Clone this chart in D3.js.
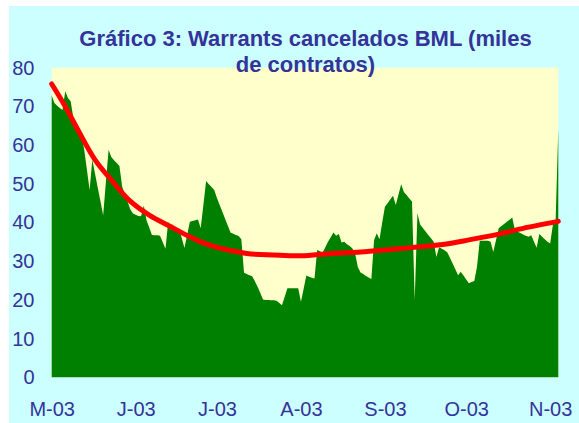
<!DOCTYPE html>
<html>
<head>
<meta charset="utf-8">
<script src="https://cdn.jsdelivr.net/npm/d3@7"></script>
<style>
body { margin: 0; background: white; }
</style>
</head>
<body>
<div id="chart"></div>
<script>
// daily values, miles de contratos
var may = [72.8, 70.9, 70.2, 69.6, 69.1, 73.9, 72.2, 71.3, 67.0, 65.2, 64.0, 62.7, 58.8, 53.6, 48.4, 56.2,
    52.6, 49.0, 45.5, 41.9, 50.4, 58.8, 56.9, 56.1, 55.4, 54.6, 49.3, 47.3, 45.4, 43.4, 42.3];
var jun = [42.0, 41.7, 41.6, 44.4, 40.6, 38.7, 36.8, 36.7, 36.7, 36.6, 34.9, 33.2, 40.2, 38.1, 38.2,
    38.4, 38.5, 36.0, 33.4, 36.8, 40.2, 40.4, 40.6, 40.8, 38.5, 44.6, 50.7, 49.9, 49.2, 48.4];
var jul = [46.3, 44.5, 42.8, 41.0, 39.2, 37.4, 37.1, 36.8, 36.5, 35.7, 27.0, 26.7, 26.4, 26.1, 24.8, 23.4,
    21.8, 20.1, 20.0, 20.0, 19.9, 19.9, 19.8, 19.2, 18.6, 20.8, 23.0, 23.0, 23.0, 23.0, 23.0];
var aug = [19.5, 22.9, 26.3, 26.0, 25.7, 25.5, 32.9, 32.6, 32.2, 33.6, 35.0, 36.2, 37.4, 36.6, 37.0, 34.8,
    35.0, 34.4, 33.9, 33.3, 32.0, 28.5, 27.1, 26.7, 26.2, 25.8, 25.4, 35.5, 37.2, 35.7, 40.0];
var sep = [44.1, 45.0, 46.0, 46.9, 44.5, 47.2, 49.9, 47.9, 47.1, 46.2, 45.4, 19.9, 42.4, 39.5, 38.6,
    37.7, 36.8, 35.9, 35.0, 31.1, 33.6, 33.2, 32.8, 32.3, 30.9, 29.4, 27.9, 26.4, 27.3, 26.3];
var oct = [25.3, 24.3, 24.6, 24.9, 28.6, 35.3, 35.3, 35.3, 35.3, 35.0, 32.4, 35.4, 38.5, 39.1, 39.6, 40.2,
    40.7, 41.3, 38.0, 37.6, 37.3, 36.9, 36.6, 36.3, 36.7, 35.1, 33.5, 37.0, 36.3, 35.7, 35.0];
var nov = [34.6, 39.4, 40.2, 64.2];

// red trend line, read at these dates
var trendDates = ["2003-05-01", "2003-05-06", "2003-05-11", "2003-05-17", "2003-05-23", "2003-05-30",
    "2003-06-06", "2003-06-14", "2003-06-21", "2003-06-28", "2003-07-12", "2003-07-22", "2003-08-01",
    "2003-08-12", "2003-08-23", "2003-09-01", "2003-09-12", "2003-09-23", "2003-10-02", "2003-10-13",
    "2003-10-24", "2003-11-04"];
var trendValues = [75.8, 70.0, 63.5, 56.2, 51.0, 45.5, 41.9, 38.9, 36.3, 34.2, 32.0, 31.6, 31.4,
    32.0, 32.4, 32.9, 33.6, 34.4, 35.5, 37.0, 38.8, 40.3];

var monthLabels = ["M-03", "J-03", "J-03", "A-03", "S-03", "O-03", "N-03"];
var yTicks = [0, 10, 20, 30, 40, 50, 60, 70, 80];
var titleLines = ["Gráfico 3: Warrants cancelados BML (miles", "de contratos)"];

w = 579;
h = 423;
var blue = "#333399";
var plot = { left: 51.7, right: 558.3, top: 67.7, bottom: 377.3 };

var parse = d3.timeParse("%Y-%m-%d");
var start = parse("2003-05-01"), end = parse("2003-11-04");

var values = may.concat(jun, jul, aug, sep, oct, nov);
var days = d3.timeDay.range(start, d3.timeDay.offset(end, 1));
var data = days.map(function (d, i) { return { date: d, v: values[i] }; });
var trend = trendDates.map(function (d, i) { return { date: parse(d), v: trendValues[i] }; });

var x = d3.scaleTime().domain([start, end]).range([plot.left, plot.right]);
var y = d3.scaleLinear().domain([0, 80]).range([plot.bottom, plot.top]);

var svg = d3.select("#chart").append("svg").attr("width", w).attr("height", h);

svg.append("rect").attr("x", 9).attr("y", 6).attr("width", w - 9).attr("height", h - 6).attr("fill", "#CCFFFF");
svg.append("rect").attr("x", plot.left).attr("y", plot.top)
    .attr("width", plot.right - plot.left).attr("height", plot.bottom - plot.top).attr("fill", "#FFFFCC");

var area = d3.area().x(function (d) { return x(d.date); }).y0(y(0)).y1(function (d) { return y(d.v); });
svg.append("path").datum(data).attr("fill", "#008000").attr("d", area);

var line = d3.line().x(function (d) { return x(d.date); }).y(function (d) { return y(d.v); })
    .curve(d3.curveCatmullRom.alpha(0.5));
svg.append("path").datum(trend).attr("fill", "none").attr("stroke", "#FF0000")
    .attr("stroke-width", 5).attr("stroke-linecap", "round").attr("d", line);

// axes without lines, only labels
var yAxis = svg.append("g").attr("transform", "translate(34.5,0)")
    .call(d3.axisLeft(y).tickValues(yTicks).tickSize(0).tickPadding(0));
yAxis.select(".domain").remove();
yAxis.selectAll("text").attr("fill", blue).attr("font-family", "Liberation Sans, Arial, sans-serif")
    .attr("font-size", "20px");

var monthTicks = d3.timeMonth.range(start, end);
var xAxis = svg.append("g").attr("transform", "translate(0,402)")
    .call(d3.axisBottom(x).tickValues(monthTicks).tickSize(0).tickPadding(0)
        .tickFormat(function (d, i) { return monthLabels[i]; }));
xAxis.select(".domain").remove();
xAxis.selectAll("text").attr("fill", blue).attr("font-family", "Liberation Sans, Arial, sans-serif")
    .attr("font-size", "20px");

svg.selectAll(".title").data(titleLines).enter().append("text")
    .attr("x", 305.5).attr("y", function (d, i) { return 46 + i * 26; })
    .attr("text-anchor", "middle").attr("fill", blue)
    .attr("font-family", "Liberation Sans, Arial, sans-serif").attr("font-weight", "bold")
    .attr("font-size", "22px").text(function (d) { return d; });
</script>
</body>
</html>
